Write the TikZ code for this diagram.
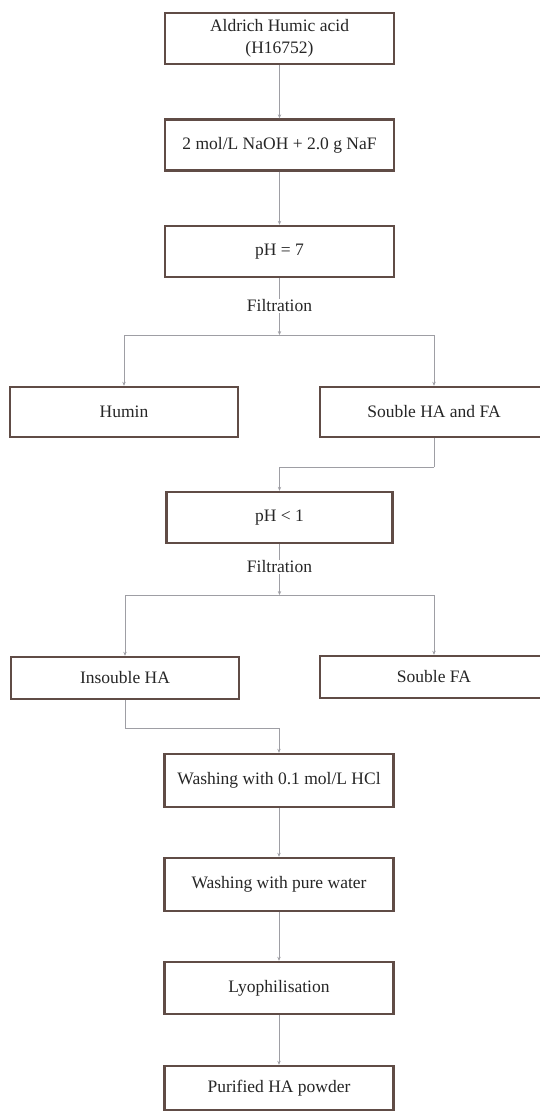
\documentclass[tikz,border=0pt]{standalone}
\usepackage{fontspec}
\setmainfont{Liberation Serif}
\usetikzlibrary{arrows.meta,positioning}

\definecolor{boxbrown}{RGB}{96,76,70}
\definecolor{linegray}{RGB}{158,158,164}

\begin{document}
\begin{tikzpicture}[x=1pt,y=-1pt,
  flow/.style={draw=linegray,line width=.8pt},
  link/.style={flow,-{Stealth[length=4pt,width=3.4pt]}},
  stepbox/.style={draw=boxbrown,fill=white,line width=2.4pt,
    align=center,font=\fontsize{17.5}{22}\selectfont,text=black!85,
    minimum width=229pt,minimum height=51pt,inner sep=0pt},
  branch/.style={stepbox,minimum width=228pt,minimum height=50pt},
  label/.style={font=\fontsize{17.5}{20}\selectfont,text=black!85,inner sep=1pt}]

\useasboundingbox (0,0) rectangle (540,1112);

\node[stepbox] (source) at (279.5,38.5)
  {Aldrich Humic acid\\(H16752)};
\node[stepbox] (naoh) at (279.5,145) {2 mol/L NaOH + 2.0 g NaF};
\node[stepbox] (ph7) at (279.5,251.5) {pH = 7};
\node[label] (filt1) at (279.5,306) {Filtration};
\coordinate (split1) at (279.5,335);

\node[branch] (humin) at (124,412) {Humin};
\node[branch] (soluble) at (434,412) {Souble HA and FA};
\coordinate (bend1) at (434,467);

\node[stepbox,minimum width=226pt] (ph1) at (279.5,517.5) {pH < 1};
\node[label] (filt2) at (279.5,567) {Filtration};
\coordinate (split2) at (279.5,595);

\node[branch,minimum height=42pt] (insol) at (125,678) {Insouble HA};
\node[branch,minimum height=42pt] (solfa) at (434,677) {Souble FA};
\coordinate (bend2) at (125,728);

\node[stepbox,minimum height=53pt] (hcl) at (279,780.5)
  {Washing with 0.1 mol/L HCl};
\node[stepbox,minimum height=53pt] (water) at (279,884.5)
  {Washing with pure water};
\node[stepbox,minimum height=52pt] (lyo) at (279,988) {Lyophilisation};
\node[stepbox,minimum height=44pt] (powder) at (279,1088)
  {Purified HA powder};

\draw[link] (source) -- (naoh);
\draw[link] (naoh) -- (ph7);
\draw[flow] (ph7) -- (filt1);
\draw[link] (filt1) -- (split1);
\draw[link] (split1) -| (humin);
\draw[link] (split1) -| (soluble);
\draw[flow] (soluble) -- (bend1);
\draw[link] (bend1) -| (ph1);
\draw[flow] (ph1) -- (filt2);
\draw[link] (filt2) -- (split2);
\draw[link] (split2) -| (insol);
\draw[link] (split2) -| (solfa);
\draw[flow] (insol) -- (bend2);
\draw[link] (bend2) -| (hcl);
\draw[link] (hcl) -- (water);
\draw[link] (water) -- (lyo);
\draw[link] (lyo) -- (powder);
\end{tikzpicture}
\end{document}
